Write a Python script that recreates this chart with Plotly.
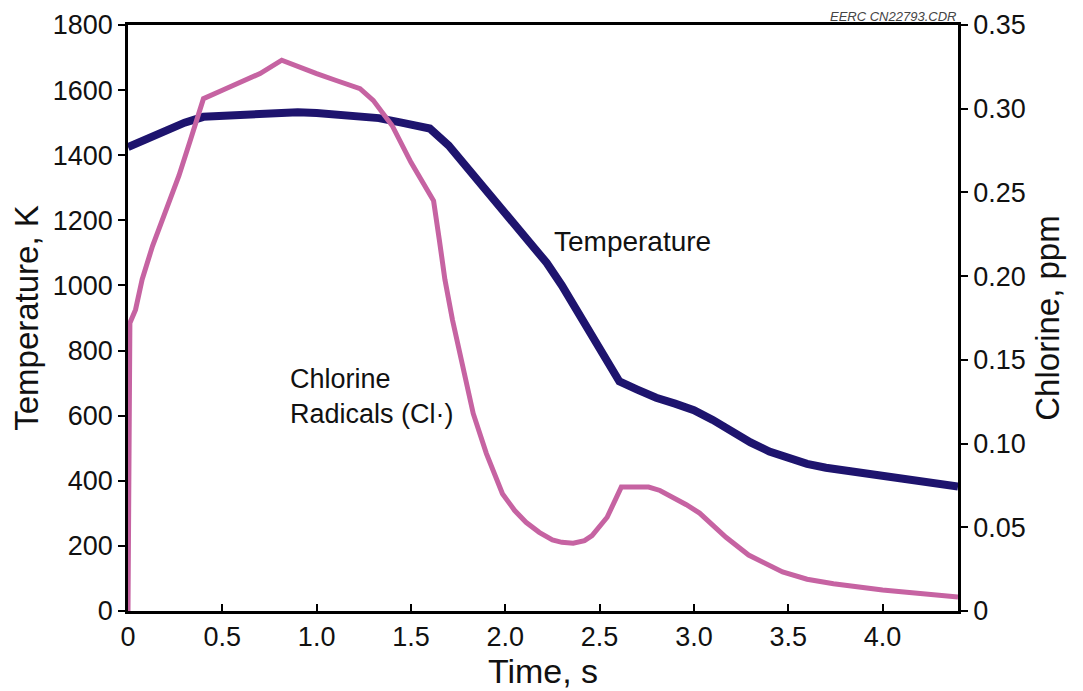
import plotly.graph_objects as go

# Temperature (K) vs time (s)
temp_time = [0, 0.1, 0.2, 0.3, 0.4, 0.5, 0.6, 0.7, 0.8, 0.9, 1.0, 1.1, 1.2, 1.33, 1.45, 1.6,
             1.7, 1.81, 1.9, 2.0, 2.1, 2.22, 2.3, 2.4, 2.5, 2.605, 2.7, 2.8, 2.9, 3.0, 3.1,
             3.2, 3.3, 3.4, 3.5, 3.6, 3.7, 3.8, 3.9, 4.0, 4.1, 4.2, 4.3, 4.4]
temp_vals = [1425, 1450, 1475, 1500, 1518, 1522, 1525, 1530, 1533, 1532, 1530, 1527, 1522, 1514, 1500, 1482,
             1430, 1355, 1290, 1222, 1152, 1069, 1000, 905, 805, 705, 680, 655, 637, 617, 587,
             552, 518, 490, 468, 452, 440, 432, 424, 417, 408, 400, 391, 382]

# Chlorine radicals (ppm) vs time (s)
cl_time = [0, 0.01, 0.04, 0.075, 0.13, 0.2, 0.27, 0.33, 0.4, 0.5, 0.6, 0.7, 0.815, 0.9, 1.0, 1.1,
           1.23, 1.3, 1.4, 1.5, 1.58, 1.62, 1.65, 1.68, 1.72, 1.775, 1.83, 1.9, 1.985, 2.05, 2.11,
           2.18, 2.25, 2.3, 2.36, 2.42, 2.46, 2.54, 2.615, 2.7, 2.76, 2.82, 2.89, 2.96, 3.03, 3.1,
           3.17, 3.29, 3.38, 3.47, 3.6, 3.74, 4.0, 4.2, 4.4]
cl_vals = [0, 0.172, 0.18, 0.198, 0.218, 0.238, 0.26, 0.281, 0.306, 0.311, 0.316, 0.321, 0.329, 0.325, 0.321, 0.317,
           0.312, 0.305, 0.29, 0.268, 0.253, 0.245, 0.222, 0.198, 0.174, 0.146, 0.118, 0.094, 0.07, 0.06, 0.053,
           0.047, 0.0425, 0.041, 0.0405, 0.042, 0.045, 0.056, 0.074, 0.074, 0.074, 0.072, 0.068, 0.0635, 0.0585, 0.051,
           0.044, 0.0334, 0.028, 0.0233, 0.019, 0.0163, 0.0125, 0.0103, 0.0084]

x_ticks = [0, 0.5, 1.0, 1.5, 2.0, 2.5, 3.0, 3.5, 4.0]
x_tick_text = ["0", "0.5", "1.0", "1.5", "2.0", "2.5", "3.0", "3.5", "4.0"]
y_ticks = [0, 200, 400, 600, 800, 1000, 1200, 1400, 1600, 1800]
y2_ticks = [0, 0.05, 0.10, 0.15, 0.20, 0.25, 0.30, 0.35]
y2_tick_text = ["0", "0.05", "0.10", "0.15", "0.20", "0.25", "0.30", "0.35"]

NAVY = "#1e146e"
PINK = "#c663a2"
FONT = "Liberation Sans, Arial, sans-serif"

fig = go.Figure()
fig.add_trace(go.Scatter(x=cl_time, y=cl_vals, mode="lines", yaxis="y2",
                         line=dict(color=PINK, width=5), showlegend=False))
fig.add_trace(go.Scatter(x=temp_time, y=temp_vals, mode="lines", yaxis="y",
                         line=dict(color=NAVY, width=8), showlegend=False))

# the page body adds an 8px offset, so the figure is sized 8px smaller
fig.update_layout(
    width=1075, height=683,
    margin=dict(l=120, r=125, t=17, b=80),
    paper_bgcolor="white", plot_bgcolor="white",
    font=dict(family=FONT, color="#111111"),
    xaxis=dict(range=[0, 4.4], tickvals=x_ticks, ticktext=x_tick_text, automargin=False,
               ticks="inside", ticklen=7, tickwidth=2, tickcolor="black",
               showline=True, linecolor="black", linewidth=2.5, mirror=True,
               showgrid=False, zeroline=False, tickfont=dict(size=27),
               title=dict(text="Time, s", font=dict(size=34), standoff=5)),
    yaxis=dict(range=[0, 1800], tickvals=y_ticks, automargin=False,
               ticks="outside", ticklen=7, tickwidth=2, tickcolor="black",
               showline=True, linecolor="black", linewidth=2.5,
               showgrid=False, zeroline=False, tickfont=dict(size=27),
               title=dict(text="Temperature, K", font=dict(size=33), standoff=8)),
    yaxis2=dict(range=[0, 0.35], tickvals=y2_ticks, ticktext=y2_tick_text, automargin=False,
                overlaying="y", side="right",
                ticks="outside", ticklen=7, tickwidth=2, tickcolor="black",
                showline=True, linecolor="black", linewidth=2.5,
                showgrid=False, zeroline=False, tickfont=dict(size=27),
                title=dict(text="Chlorine, ppm", font=dict(size=33), standoff=12)),
    annotations=[
        dict(x=2.25, y=1136, xref="x", yref="y", text="Temperature", showarrow=False,
             xanchor="left", yanchor="middle", font=dict(size=28)),
        dict(x=0.85, y=658, xref="x", yref="y", text="Chlorine<br>Radicals (Cl·)",
             showarrow=False, xanchor="left", yanchor="middle", align="left",
             font=dict(size=27)),
        dict(x=1.0, y=1.0145, xref="paper", yref="paper", text="<i>EERC CN22793.CDR</i>",
             showarrow=False, xanchor="right", yanchor="middle",
             font=dict(size=13, color="#444444")),
    ],
)

fig.write_html("out.html")
